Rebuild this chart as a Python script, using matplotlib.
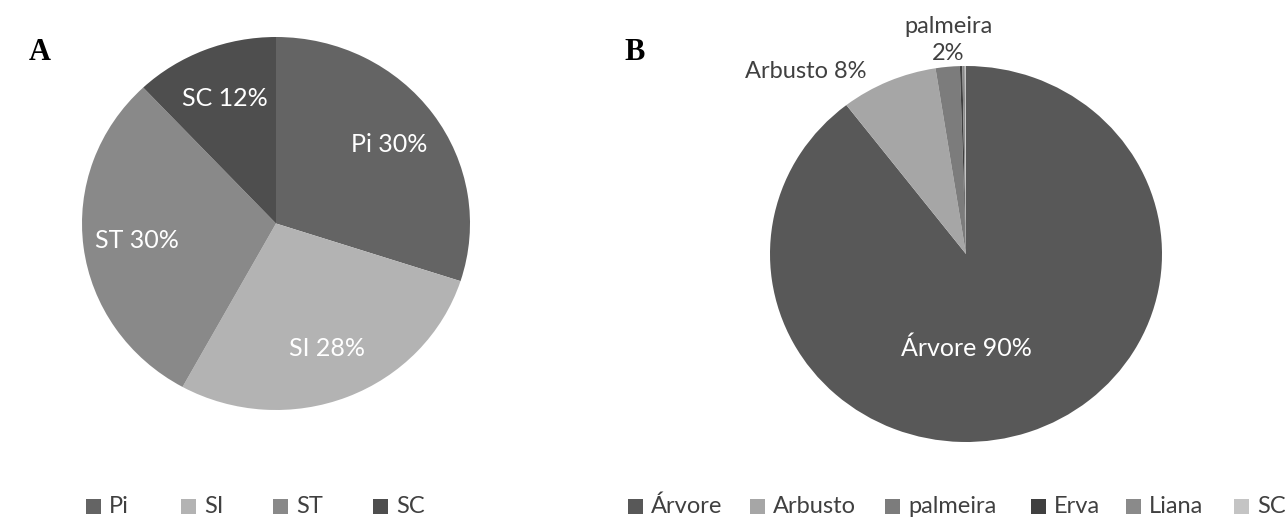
import matplotlib
matplotlib.use("Agg")
import numpy as np
import matplotlib.pyplot as plt
from matplotlib.patches import Rectangle

plt.rcParams['font.family'] = ['Lato', 'DejaVu Sans']

# Panel A: successional groups
groups_a = ['Pi', 'SI', 'ST', 'SC']
values_a = [30, 28, 30, 12]
colors_a = ['#646464', '#b3b3b3', '#898989', '#4e4e4e']

# Panel B: life forms
groups_b = ['Árvore', 'Arbusto', 'palmeira', 'Erva', 'Liana', 'SC']
values_b = [90, 8, 2, 0.2, 0.2, 0.1]
colors_b = ['#585858', '#a6a6a6', '#7c7c7c', '#404040', '#8a8a8a', '#c4c4c4']

W, H = 1285, 517
fig = plt.figure(figsize=(W / 100, H / 100), dpi=100)


def px_axes(left, top, right, bottom):
    return fig.add_axes([left / W, 1 - bottom / H, (right - left) / W, (bottom - top) / H])


def draw_pie(ax, values, colors):
    wedges, _ = ax.pie(values, colors=colors, startangle=90, counterclock=False,
                       wedgeprops=dict(linewidth=0))
    ax.set_aspect('auto')
    ax.set_xlim(-1, 1)
    ax.set_ylim(-1, 1)
    return wedges


def mid_point(wedge, r):
    ang = np.deg2rad((wedge.theta1 + wedge.theta2) / 2)
    return r * np.cos(ang), r * np.sin(ang)


def draw_legend(names, colors, xs, y=506, box=15):
    # square swatch followed by the name, one entry per x position (pixels)
    for name, c, x in zip(names, colors, xs):
        fig.patches.append(Rectangle((x / W, 1 - (y + box / 2) / H), box / W, box / H,
                                     transform=fig.transFigure, facecolor=c,
                                     edgecolor='none'))
        fig.text((x + box + 8) / W, 1 - (y + 7) / H, name, fontsize=17,
                 color='#404040', ha='left', va='baseline')


# --- A ---
ax_a = px_axes(82, 37, 470, 410)
wedges_a = draw_pie(ax_a, values_a, colors_a)
for w, name, v in zip(wedges_a, groups_a, values_a):
    x, y = mid_point(w, 0.72)
    ax_a.text(x, y, f"{name} {v}%", ha='center', va='center', color='white', fontsize=18)

# --- B ---
ax_b = px_axes(770, 66, 1162, 442)
wedges_b = draw_pie(ax_b, values_b, colors_b)
ax_b.text(0, -0.5, f"{groups_b[0]} {values_b[0]}%", ha='center', va='center',
          color='white', fontsize=18)
ax_b.text(-0.82, 0.97, f"{groups_b[1]} {values_b[1]}%", ha='center', va='center',
          color='#404040', fontsize=17, clip_on=False)
ax_b.text(-0.09, 1.14, f"{groups_b[2]}\n{values_b[2]}%", ha='center', va='center',
          color='#404040', fontsize=17, clip_on=False, linespacing=1.35)

# panel letters
fig.text(40 / W, 1 - 52 / H, 'A', fontsize=22, fontweight='bold', family='Liberation Serif',
         ha='center', va='center')
fig.text(635 / W, 1 - 52 / H, 'B', fontsize=22, fontweight='bold', family='Liberation Serif',
         ha='center', va='center')

# legends
draw_legend(groups_a, colors_a, [86, 181, 273, 373])
draw_legend(groups_b, colors_b, [628, 750, 885, 1031, 1126, 1234])

fig.savefig('out.png', dpi=100, facecolor='white')
